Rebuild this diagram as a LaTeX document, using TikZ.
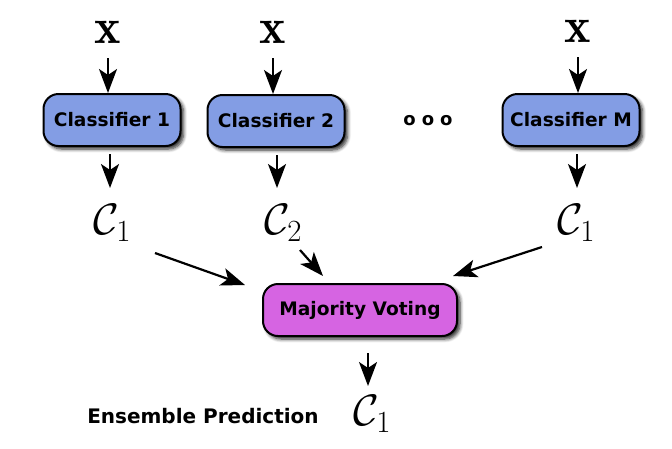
\RequirePackage{fix-cm}
\documentclass[tikz,border=0pt]{standalone}
\usepackage{fontspec}
\setsansfont{DejaVu Sans}
\usepackage{amsmath}
\usetikzlibrary{arrows.meta,shadows.blur}
\definecolor{clsblue}{RGB}{131,157,228}
\definecolor{mvpink}{RGB}{214,100,226}
\tikzset{
  boxbase/.style={draw=black, line width=2pt, rounded corners=15pt, minimum height=52pt,
    font=\fontsize{18.6}{20}\selectfont\sffamily\bfseries, inner sep=0pt,
    blur shadow={shadow xshift=3pt, shadow yshift=-3pt, shadow blur steps=6, shadow blur radius=3.5pt, shadow opacity=85}},
  clsbox/.style={boxbase, fill=clsblue, minimum width=137pt},
  mvbox/.style={boxbase, fill=mvpink, minimum width=194pt},
  xin/.style={inner sep=0pt, font=\fontsize{50}{54}\selectfont},
  cout/.style={inner sep=0pt, font=\fontsize{44}{48}\selectfont},
  arr/.style={line width=2.2pt, -{Stealth[length=24pt, width=18pt, inset=6pt]}},
}
\begin{document}
\begin{tikzpicture}[x=1pt,y=-1pt]
\useasboundingbox (0,0) rectangle (672,448);
% inputs
\node[xin] (x1) at (108,32) {$\mathbf{x}$};
\node[xin] (x2) at (273,32) {$\mathbf{x}$};
\node[xin] (x3) at (578,31) {$\mathbf{x}$};
% classifiers
\node[clsbox] (cl1) at (112,120) {Classifier 1};
\node[clsbox] (cl2) at (276,121) {Classifier 2};
\node[clsbox] (clm) at (571,120) {Classifier M};
\node[font=\fontsize{18}{20}\selectfont\sffamily\bfseries] (dots) at (428,121) {o\hspace{6pt}o\hspace{6pt}o};
% outputs
\node[cout] (c1) at (112,223) {$\mathcal{C}_1$};
\node[cout] (c2) at (283,223) {$\mathcal{C}_2$};
\node[cout] (cm) at (576,223) {$\mathcal{C}_1$};
% majority voting
\node[mvbox] (mv) at (360,310) {Majority Voting};
\node[cout] (cf) at (372,414) {$\mathcal{C}_1$};
\node[font=\fontsize{20}{22}\selectfont\sffamily\bfseries] (ens) at (203,416) {Ensemble Prediction};
% arrows
\coordinate (a1) at (110,0);
\coordinate (a2) at (277,0);
\coordinate (a3) at (577,0);
\draw[arr] ([yshift=-15pt]x1.south) -- (x1 |- cl1.north);
\draw[arr] ([yshift=-15pt]x2.south) -- (x2 |- cl2.north);
\draw[arr] ([yshift=-15pt]x3.south) -- (x3 |- clm.north);
\draw[arr] ([yshift=-7pt]a1 |- cl1.south) -- ([yshift=35pt]a1 |- c1.center);
\draw[arr] ([yshift=-7pt]a2 |- cl2.south) -- ([yshift=35pt]a2 |- c2.center);
\draw[arr] ([yshift=-7pt]a3 |- clm.south) -- ([yshift=35pt]a3 |- cm.center);
\draw[arr] ([shift={(43,30)}]c1.center) -- ([shift={(-115,-25)}]mv.center);
\draw[arr] ([shift={(17,27)}]c2.center) -- ([shift={(-37,-34)}]mv.center);
\draw[arr] ([shift={(-34,24)}]cm.center) -- ([shift={(93,-34)}]mv.center);
\draw[arr] ([shift={(8,16)}]mv.south) -- ([shift={(-4,-28)}]cf.center);
\end{tikzpicture}
\end{document}
